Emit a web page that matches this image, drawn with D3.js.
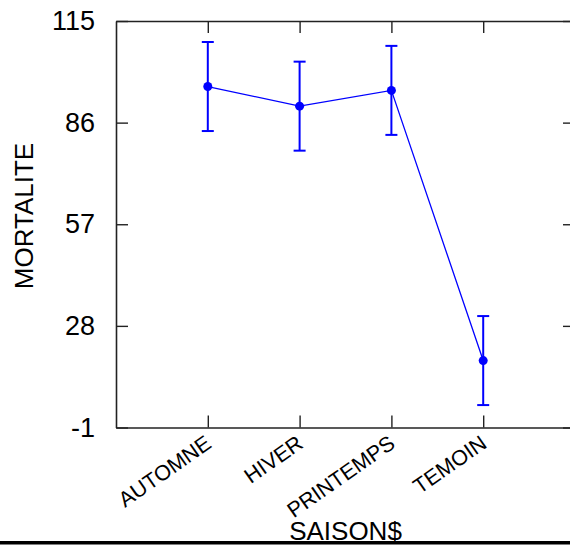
<!DOCTYPE html>
<html>
<head>
<meta charset="utf-8">
<script src="https://cdn.jsdelivr.net/npm/d3@7"></script>
<style>
  html, body { margin: 0; padding: 0; background: #fff; }
  svg { display: block; }
  text { font-family: "Liberation Sans", Arial, sans-serif; fill: #000; }
</style>
</head>
<body>
<svg id="chart" width="570" height="548"></svg>
<script>
// Mortality by season: group means with standard-error bars
const categories = ["AUTOMNE", "HIVER", "PRINTEMPS", "TEMOIN"];
const means = [96.3, 90.7, 95.2, 18.1];
const stdErrors = [12.7, 12.7, 12.7, 12.7];
const yTicks = [-1, 28, 57, 86, 115];
const xTitle = "SAISON$";
const yTitle = "MORTALITE";

const svg = d3.select("#chart");
const W = 570, H = 548;
const frame = { left: 116, right: 575, top: 21, bottom: 427.5 };

const x = d3.scalePoint()
  .domain(categories)
  .range([frame.left, frame.right])
  .padding(1);

const y = d3.scaleLinear()
  .domain([yTicks[0], yTicks[yTicks.length - 1]])
  .range([frame.bottom, frame.top]);

const axisColor = "#222";
const tickLen = 12;

// Frame axes with inward ticks on all four sides
const gLeft = svg.append("g")
  .attr("transform", `translate(${frame.left},0)`)
  .call(d3.axisLeft(y).tickValues(yTicks).tickSize(-tickLen).tickSizeOuter(0)
    .tickPadding(21).tickFormat(d => String(d)));
const gRight = svg.append("g")
  .attr("transform", `translate(${frame.right},0)`)
  .call(d3.axisRight(y).tickValues(yTicks).tickSize(-tickLen).tickSizeOuter(0).tickFormat(""));
const gTop = svg.append("g")
  .attr("transform", `translate(0,${frame.top})`)
  .call(d3.axisTop(x).tickSize(-tickLen).tickSizeOuter(0).tickFormat(""));
const gBottom = svg.append("g")
  .attr("transform", `translate(0,${frame.bottom})`)
  .call(d3.axisBottom(x).tickSize(-tickLen).tickSizeOuter(0).tickFormat(""));

[gLeft, gRight, gTop, gBottom].forEach(g => {
  g.select(".domain").attr("stroke", axisColor).attr("stroke-width", 1.6);
  g.selectAll(".tick line").attr("stroke", axisColor).attr("stroke-width", 1.4);
});

gLeft.selectAll(".tick text")
  .attr("font-size", 27)
  .attr("font-family", "Liberation Sans, Arial, sans-serif")
  .attr("fill", "#000");

// Rotated category labels under the bottom axis
const catAngle = -35;
svg.append("g")
  .selectAll("text")
  .data(categories)
  .join("text")
  .attr("transform", d => `translate(${x(d) + 5},${frame.bottom + 19}) rotate(${catAngle})`)
  .attr("text-anchor", "end")
  .attr("font-size", 21.5)
  .text(d => d);

// Axis titles
svg.append("text")
  .attr("x", (frame.left + frame.right) / 2)
  .attr("y", 540)
  .attr("text-anchor", "middle")
  .attr("font-size", 26)
  .text(xTitle);

svg.append("text")
  .attr("transform", `translate(33,216) rotate(-90)`)
  .attr("text-anchor", "middle")
  .attr("font-size", 26)
  .text(yTitle);

// Series: connecting line, error bars, points
const blue = "#0000ff";
const rows = categories.map((c, i) => ({ cat: c, mean: means[i], se: stdErrors[i] }));

svg.append("path")
  .datum(rows)
  .attr("fill", "none")
  .attr("stroke", blue)
  .attr("stroke-width", 1.3)
  .attr("d", d3.line().x(d => x(d.cat)).y(d => y(d.mean)));

const capHalf = 6;
const eb = svg.append("g").attr("stroke", blue).attr("stroke-width", 2);
eb.selectAll("line.stem").data(rows).join("line").attr("class", "stem")
  .attr("x1", d => x(d.cat)).attr("x2", d => x(d.cat))
  .attr("y1", d => y(d.mean + d.se)).attr("y2", d => y(d.mean - d.se));
eb.selectAll("line.capTop").data(rows).join("line").attr("class", "capTop")
  .attr("x1", d => x(d.cat) - capHalf).attr("x2", d => x(d.cat) + capHalf)
  .attr("y1", d => y(d.mean + d.se)).attr("y2", d => y(d.mean + d.se));
eb.selectAll("line.capBot").data(rows).join("line").attr("class", "capBot")
  .attr("x1", d => x(d.cat) - capHalf).attr("x2", d => x(d.cat) + capHalf)
  .attr("y1", d => y(d.mean - d.se)).attr("y2", d => y(d.mean - d.se));

svg.append("g")
  .selectAll("circle")
  .data(rows)
  .join("circle")
  .attr("cx", d => x(d.cat))
  .attr("cy", d => y(d.mean))
  .attr("r", 4.5)
  .attr("fill", blue);

// Rule along the bottom edge
svg.append("rect")
  .attr("x", 0).attr("y", 541)
  .attr("width", W).attr("height", 3.5)
  .attr("fill", "#000");
</script>
</body>
</html>
